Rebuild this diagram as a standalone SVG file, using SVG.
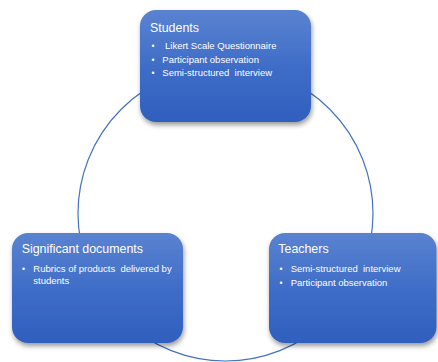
<svg xmlns="http://www.w3.org/2000/svg" width="438" height="362" viewBox="0 0 438 362">
  <defs>
    <linearGradient id="boxFill" x1="0" y1="0" x2="0" y2="1">
      <stop offset="0" stop-color="#5a83d0"/>
      <stop offset="0.5" stop-color="#3f6dc8"/>
      <stop offset="1" stop-color="#2f5fbd"/>
    </linearGradient>
    <filter id="shadow" x="-10%" y="-10%" width="125%" height="130%">
      <feDropShadow dx="1" dy="3" stdDeviation="2.5" flood-color="#000" flood-opacity="0.4"/>
    </filter>
  </defs>
  <style>
    .box { fill: url(#boxFill); filter: url(#shadow); }
    .title { font-family: "Liberation Sans", Arial, sans-serif; font-size: 12.4px; fill: #ffffff; }
    .item { font-family: "Liberation Sans", Arial, sans-serif; font-size: 9.5px; fill: #ffffff; white-space: pre; }
    .dot { font-family: "Liberation Sans", Arial, sans-serif; font-size: 8.5px; fill: #ffffff; }
    .ring { fill: none; stroke: #4472c4; stroke-width: 1.2; }
  </style>

  <rect width="438" height="362" fill="#ffffff"/>

  <!-- cycle connector -->
  <g id="connectors">
    <circle class="ring" cx="225.5" cy="213.5" r="147.5"/>
  </g>

  <!-- top node -->
  <g id="students">
    <rect class="box" x="140" y="10" width="171" height="112" rx="16"/>
    <text class="title" x="150" y="32">Students</text>
    <text class="dot" x="151.5" y="49.3">•</text>
    <text class="item" x="165" y="49.3">Likert Scale Questionnaire</text>
    <text class="dot" x="151.5" y="62.7">•</text>
    <text class="item" x="162.3" y="62.7">Participant observation</text>
    <text class="dot" x="151.5" y="76">•</text>
    <text class="item" x="162.3" y="76">Semi-structured  interview</text>
  </g>

  <!-- lower left node -->
  <g id="documents">
    <rect class="box" x="12" y="233" width="171" height="110" rx="16"/>
    <text class="title" x="21.7" y="253.3">Significant documents</text>
    <text class="dot" x="22" y="271.7">•</text>
    <text class="item" x="33.3" y="271.7">Rubrics of products  delivered by</text>
    <text class="item" x="33.3" y="283.5">students</text>
  </g>

  <!-- lower right node -->
  <g id="teachers">
    <rect class="box" x="269" y="233" width="167.5" height="110" rx="16"/>
    <text class="title" x="278.3" y="253.3">Teachers</text>
    <text class="dot" x="279.5" y="271.7">•</text>
    <text class="item" x="290.7" y="271.7">Semi-structured  interview</text>
    <text class="dot" x="279.5" y="285.7">•</text>
    <text class="item" x="290.7" y="285.7">Participant observation</text>
  </g>
</svg>
